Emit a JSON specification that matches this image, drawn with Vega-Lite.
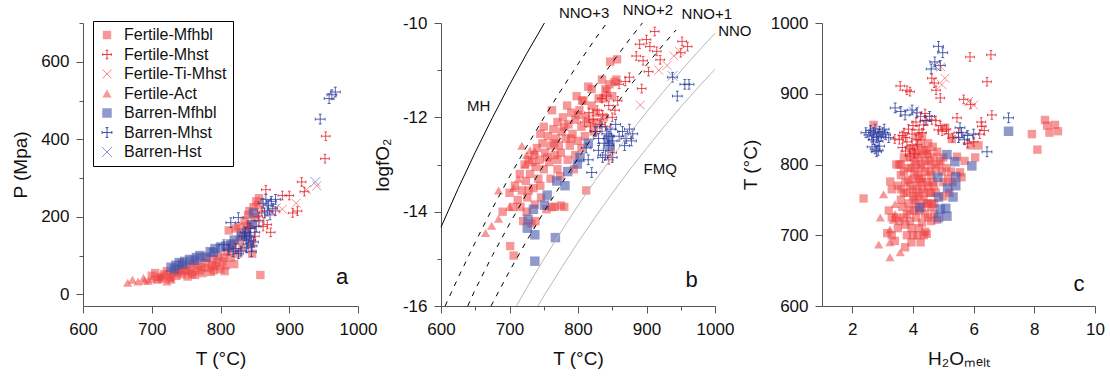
{
"$schema":"https://vega.github.io/schema/vega-lite/v6.json",
"padding":{"left":11,"top":2,"right":5,"bottom":2},
"config":{
 "view":{"stroke":null},
 "axis":{"domainColor":"#555","tickColor":"#555","domainWidth":1,"tickWidth":1,"labelFontSize":17,"titleFontSize":19,"labelFont":"Liberation Sans","titleFont":"Liberation Sans","titleFontWeight":"normal","labelColor":"#111","titleColor":"#111","grid":false,"labelFlush":false,"labelOverlap":false,"labelBound":false},
 "axisX":{"labelPadding":8,"titlePadding":12},
 "axisY":{"labelPadding":7,"titlePadding":10},
 "legend":{"orient":"none","legendX":10,"legendY":-2,"strokeColor":"#000","fillColor":"#fff","padding":6,"labelFontSize":16,"labelFont":"Liberation Sans","labelColor":"#111","rowPadding":3.5,"labelOffset":9,"symbolStrokeWidth":0.9}
},
"datasets":{
"a":[
{"series":"Fertile-Mfhbl","T":700,"P":48},{"series":"Fertile-Mfhbl","T":705,"P":55},{"series":"Fertile-Mfhbl","T":708,"P":38},{"series":"Fertile-Mfhbl","T":712,"P":45},{"series":"Fertile-Mfhbl","T":718,"P":52},{"series":"Fertile-Mfhbl","T":722,"P":60},{"series":"Fertile-Mfhbl","T":728,"P":42},{"series":"Fertile-Mfhbl","T":732,"P":55},{"series":"Fertile-Mfhbl","T":736,"P":48},{"series":"Fertile-Mfhbl","T":740,"P":65},{"series":"Fertile-Mfhbl","T":744,"P":52},{"series":"Fertile-Mfhbl","T":748,"P":60},{"series":"Fertile-Mfhbl","T":752,"P":46},{"series":"Fertile-Mfhbl","T":756,"P":70},{"series":"Fertile-Mfhbl","T":760,"P":58},{"series":"Fertile-Mfhbl","T":763,"P":50},{"series":"Fertile-Mfhbl","T":767,"P":75},{"series":"Fertile-Mfhbl","T":770,"P":62},{"series":"Fertile-Mfhbl","T":774,"P":55},{"series":"Fertile-Mfhbl","T":778,"P":80},{"series":"Fertile-Mfhbl","T":782,"P":68},{"series":"Fertile-Mfhbl","T":786,"P":58},{"series":"Fertile-Mfhbl","T":790,"P":90},{"series":"Fertile-Mfhbl","T":793,"P":72},{"series":"Fertile-Mfhbl","T":797,"P":100},{"series":"Fertile-Mfhbl","T":800,"P":65},{"series":"Fertile-Mfhbl","T":803,"P":85},{"series":"Fertile-Mfhbl","T":806,"P":60},{"series":"Fertile-Mfhbl","T":810,"P":110},{"series":"Fertile-Mfhbl","T":812,"P":165},{"series":"Fertile-Mfhbl","T":815,"P":95},{"series":"Fertile-Mfhbl","T":818,"P":130},{"series":"Fertile-Mfhbl","T":822,"P":170},{"series":"Fertile-Mfhbl","T":825,"P":105},{"series":"Fertile-Mfhbl","T":828,"P":140},{"series":"Fertile-Mfhbl","T":832,"P":120},{"series":"Fertile-Mfhbl","T":836,"P":150},{"series":"Fertile-Mfhbl","T":840,"P":205},{"series":"Fertile-Mfhbl","T":843,"P":180},{"series":"Fertile-Mfhbl","T":846,"P":105},{"series":"Fertile-Mfhbl","T":848,"P":225},{"series":"Fertile-Mfhbl","T":852,"P":240},{"series":"Fertile-Mfhbl","T":856,"P":248},{"series":"Fertile-Mfhbl","T":858,"P":50},{"series":"Fertile-Mfhbl","T":845,"P":130},{"series":"Fertile-Mfhbl","T":835,"P":190},{"series":"Fertile-Mfhbl","T":820,"P":78},{"series":"Fertile-Mfhbl","T":808,"P":75},{"series":"Fertile-Mfhbl","T":790,"P":62},{"series":"Fertile-Mfhbl","T":760,"P":80},{"series":"Fertile-Mfhbl","T":745,"P":75},{"series":"Fertile-Mfhbl","T":780,"P":95},{"series":"Fertile-Mfhbl","T":826,"P":175},{"series":"Fertile-Mfhbl","T":715,"P":40},{"series":"Fertile-Mfhbl","T":725,"P":50},{"series":"Fertile-Mfhbl","T":738,"P":58},{"series":"Fertile-Mfhbl","T":750,"P":62},{"series":"Fertile-Mfhbl","T":758,"P":52},{"series":"Fertile-Mfhbl","T":772,"P":70},{"series":"Fertile-Mfhbl","T":788,"P":75},{"series":"Fertile-Mfhbl","T":795,"P":82},{"series":"Fertile-Mfhbl","T":805,"P":95},{"series":"Fertile-Mfhbl","T":815,"P":120},{"series":"Fertile-Mfhbl","T":830,"P":160},{"series":"Fertile-Mfhbl","T":838,"P":175},{"series":"Fertile-Mfhbl","T":850,"P":200},{"series":"Fertile-Mfhbl","T":855,"P":230},{"series":"Fertile-Mfhbl","T":842,"P":215},
{"series":"Fertile-Act","T":665,"P":30},{"series":"Fertile-Act","T":672,"P":38},{"series":"Fertile-Act","T":680,"P":33},{"series":"Fertile-Act","T":688,"P":42},{"series":"Fertile-Act","T":695,"P":35},{"series":"Fertile-Act","T":700,"P":40},{"series":"Fertile-Act","T":715,"P":48},{"series":"Fertile-Act","T":722,"P":33},{"series":"Fertile-Act","T":726,"P":45},{"series":"Fertile-Act","T":728,"P":38},{"series":"Fertile-Act","T":690,"P":36},{"series":"Fertile-Act","T":710,"P":44},
{"series":"Barren-Mfhbl","T":728,"P":70},{"series":"Barren-Mfhbl","T":735,"P":75},{"series":"Barren-Mfhbl","T":740,"P":82},{"series":"Barren-Mfhbl","T":748,"P":85},{"series":"Barren-Mfhbl","T":755,"P":90},{"series":"Barren-Mfhbl","T":762,"P":88},{"series":"Barren-Mfhbl","T":770,"P":100},{"series":"Barren-Mfhbl","T":778,"P":96},{"series":"Barren-Mfhbl","T":785,"P":110},{"series":"Barren-Mfhbl","T":792,"P":118},{"series":"Barren-Mfhbl","T":800,"P":122},{"series":"Barren-Mfhbl","T":808,"P":125},{"series":"Barren-Mfhbl","T":815,"P":130},{"series":"Barren-Mfhbl","T":820,"P":140},{"series":"Barren-Mfhbl","T":830,"P":150},{"series":"Barren-Mfhbl","T":838,"P":160},{"series":"Barren-Mfhbl","T":845,"P":180},{"series":"Barren-Mfhbl","T":848,"P":210},{"series":"Barren-Mfhbl","T":790,"P":108},{"series":"Barren-Mfhbl","T":765,"P":95},{"series":"Barren-Mfhbl","T":733,"P":65},{"series":"Barren-Mfhbl","T":745,"P":78},
{"series":"Barren-Mhst","T":815,"P":185},{"series":"Barren-Mhst","T":826,"P":198},{"series":"Barren-Mhst","T":836,"P":160},{"series":"Barren-Mhst","T":838,"P":145},{"series":"Barren-Mhst","T":840,"P":130},{"series":"Barren-Mhst","T":842,"P":150},{"series":"Barren-Mhst","T":844,"P":140},{"series":"Barren-Mhst","T":846,"P":125},{"series":"Barren-Mhst","T":848,"P":135},{"series":"Barren-Mhst","T":843,"P":170},{"series":"Barren-Mhst","T":850,"P":160},{"series":"Barren-Mhst","T":838,"P":120},{"series":"Barren-Mhst","T":845,"P":110},{"series":"Barren-Mhst","T":835,"P":150},{"series":"Barren-Mhst","T":812,"P":115},{"series":"Barren-Mhst","T":818,"P":110},{"series":"Barren-Mhst","T":822,"P":118},{"series":"Barren-Mhst","T":826,"P":105},{"series":"Barren-Mhst","T":830,"P":112},{"series":"Barren-Mhst","T":805,"P":128},{"series":"Barren-Mhst","T":862,"P":235},{"series":"Barren-Mhst","T":866,"P":245},{"series":"Barren-Mhst","T":870,"P":230},{"series":"Barren-Mhst","T":874,"P":240},{"series":"Barren-Mhst","T":868,"P":215},{"series":"Barren-Mhst","T":876,"P":222},{"series":"Barren-Mhst","T":880,"P":245},{"series":"Barren-Mhst","T":872,"P":205},{"series":"Barren-Mhst","T":864,"P":210},{"series":"Barren-Mhst","T":945,"P":452},{"series":"Barren-Mhst","T":958,"P":505},{"series":"Barren-Mhst","T":962,"P":515},{"series":"Barren-Mhst","T":967,"P":522},{"series":"Barren-Mhst","T":856,"P":190},{"series":"Barren-Mhst","T":852,"P":175},
{"series":"Fertile-Mhst","T":866,"P":270},{"series":"Fertile-Mhst","T":873,"P":160},{"series":"Fertile-Mhst","T":862,"P":175},{"series":"Fertile-Mhst","T":868,"P":180},{"series":"Fertile-Mhst","T":890,"P":255},{"series":"Fertile-Mhst","T":900,"P":255},{"series":"Fertile-Mhst","T":905,"P":210},{"series":"Fertile-Mhst","T":912,"P":215},{"series":"Fertile-Mhst","T":918,"P":290},{"series":"Fertile-Mhst","T":922,"P":265},{"series":"Fertile-Mhst","T":952,"P":350},{"series":"Fertile-Mhst","T":953,"P":408},{"series":"Fertile-Mhst","T":860,"P":215},{"series":"Fertile-Mhst","T":855,"P":200},{"series":"Fertile-Mhst","T":880,"P":215},{"series":"Fertile-Mhst","T":840,"P":175},{"series":"Fertile-Mhst","T":850,"P":150},
{"series":"Fertile-Ti-Mhst","T":910,"P":235},{"series":"Fertile-Ti-Mhst","T":925,"P":270},{"series":"Fertile-Ti-Mhst","T":940,"P":280},{"series":"Fertile-Ti-Mhst","T":890,"P":220},{"series":"Fertile-Ti-Mhst","T":860,"P":190},
{"series":"Barren-Hst","T":938,"P":290},{"series":"Barren-Hst","T":845,"P":150},{"series":"Barren-Hst","T":880,"P":222}
],
"b":[
{"series":"Fertile-Mfhbl","T":701,"f":-14.73},{"series":"Fertile-Mfhbl","T":706,"f":-14.93},{"series":"Fertile-Mfhbl","T":690,"f":-14.0},{"series":"Fertile-Mfhbl","T":700,"f":-13.6},{"series":"Fertile-Mfhbl","T":705,"f":-13.9},{"series":"Fertile-Mfhbl","T":708,"f":-13.45},{"series":"Fertile-Mfhbl","T":712,"f":-13.75},{"series":"Fertile-Mfhbl","T":715,"f":-13.2},{"series":"Fertile-Mfhbl","T":718,"f":-13.55},{"series":"Fertile-Mfhbl","T":720,"f":-14.2},{"series":"Fertile-Mfhbl","T":722,"f":-13.0},{"series":"Fertile-Mfhbl","T":724,"f":-13.35},{"series":"Fertile-Mfhbl","T":726,"f":-13.7},{"series":"Fertile-Mfhbl","T":728,"f":-12.9},{"series":"Fertile-Mfhbl","T":730,"f":-13.2},{"series":"Fertile-Mfhbl","T":732,"f":-14.25},{"series":"Fertile-Mfhbl","T":735,"f":-13.5},{"series":"Fertile-Mfhbl","T":736,"f":-12.8},{"series":"Fertile-Mfhbl","T":738,"f":-13.05},{"series":"Fertile-Mfhbl","T":740,"f":-12.65},{"series":"Fertile-Mfhbl","T":742,"f":-13.3},{"series":"Fertile-Mfhbl","T":744,"f":-12.9},{"series":"Fertile-Mfhbl","T":746,"f":-13.7},{"series":"Fertile-Mfhbl","T":748,"f":-12.55},{"series":"Fertile-Mfhbl","T":750,"f":-13.1},{"series":"Fertile-Mfhbl","T":752,"f":-12.75},{"series":"Fertile-Mfhbl","T":754,"f":-13.95},{"series":"Fertile-Mfhbl","T":756,"f":-12.4},{"series":"Fertile-Mfhbl","T":758,"f":-12.95},{"series":"Fertile-Mfhbl","T":760,"f":-12.6},{"series":"Fertile-Mfhbl","T":762,"f":-13.9},{"series":"Fertile-Mfhbl","T":764,"f":-12.25},{"series":"Fertile-Mfhbl","T":766,"f":-12.8},{"series":"Fertile-Mfhbl","T":768,"f":-12.45},{"series":"Fertile-Mfhbl","T":770,"f":-12.1},{"series":"Fertile-Mfhbl","T":772,"f":-12.6},{"series":"Fertile-Mfhbl","T":774,"f":-13.25},{"series":"Fertile-Mfhbl","T":776,"f":-12.3},{"series":"Fertile-Mfhbl","T":778,"f":-12.0},{"series":"Fertile-Mfhbl","T":780,"f":-13.9},{"series":"Fertile-Mfhbl","T":782,"f":-12.45},{"series":"Fertile-Mfhbl","T":784,"f":-11.75},{"series":"Fertile-Mfhbl","T":786,"f":-12.15},{"series":"Fertile-Mfhbl","T":788,"f":-12.6},{"series":"Fertile-Mfhbl","T":790,"f":-11.9},{"series":"Fertile-Mfhbl","T":792,"f":-12.35},{"series":"Fertile-Mfhbl","T":794,"f":-13.1},{"series":"Fertile-Mfhbl","T":796,"f":-12.05},{"series":"Fertile-Mfhbl","T":798,"f":-11.55},{"series":"Fertile-Mfhbl","T":800,"f":-12.5},{"series":"Fertile-Mfhbl","T":802,"f":-11.85},{"series":"Fertile-Mfhbl","T":805,"f":-12.2},{"series":"Fertile-Mfhbl","T":808,"f":-11.65},{"series":"Fertile-Mfhbl","T":810,"f":-12.4},{"series":"Fertile-Mfhbl","T":812,"f":-13.55},{"series":"Fertile-Mfhbl","T":815,"f":-11.35},{"series":"Fertile-Mfhbl","T":818,"f":-12.1},{"series":"Fertile-Mfhbl","T":820,"f":-11.4},{"series":"Fertile-Mfhbl","T":823,"f":-12.3},{"series":"Fertile-Mfhbl","T":826,"f":-11.9},{"series":"Fertile-Mfhbl","T":830,"f":-11.6},{"series":"Fertile-Mfhbl","T":835,"f":-11.2},{"series":"Fertile-Mfhbl","T":838,"f":-12.0},{"series":"Fertile-Mfhbl","T":842,"f":-11.45},{"series":"Fertile-Mfhbl","T":846,"f":-11.3},{"series":"Fertile-Mfhbl","T":850,"f":-11.55},{"series":"Fertile-Mfhbl","T":853,"f":-11.25},{"series":"Fertile-Mfhbl","T":856,"f":-11.2},{"series":"Fertile-Mfhbl","T":847,"f":-10.82},{"series":"Fertile-Mfhbl","T":857,"f":-10.77},{"series":"Fertile-Mfhbl","T":725,"f":-14.0},{"series":"Fertile-Mfhbl","T":737,"f":-13.85},{"series":"Fertile-Mfhbl","T":750,"f":-12.2},{"series":"Fertile-Mfhbl","T":762,"f":-11.85},{"series":"Fertile-Mfhbl","T":770,"f":-12.9},{"series":"Fertile-Mfhbl","T":785,"f":-12.9},{"series":"Fertile-Mfhbl","T":806,"f":-11.64},{"series":"Fertile-Mfhbl","T":837,"f":-11.6},{"series":"Fertile-Mfhbl","T":840,"f":-11.4},{"series":"Fertile-Mfhbl","T":738,"f":-14.2},{"series":"Fertile-Mfhbl","T":775,"f":-13.87},{"series":"Fertile-Mfhbl","T":766,"f":-13.9},{"series":"Fertile-Mfhbl","T":745,"f":-12.35},{"series":"Fertile-Mfhbl","T":755,"f":-12.85},{"series":"Fertile-Mfhbl","T":765,"f":-12.55},{"series":"Fertile-Mfhbl","T":775,"f":-12.75},{"series":"Fertile-Mfhbl","T":780,"f":-12.2},{"series":"Fertile-Mfhbl","T":790,"f":-12.45},{"series":"Fertile-Mfhbl","T":800,"f":-11.95},{"series":"Fertile-Mfhbl","T":812,"f":-12.0},{"series":"Fertile-Mfhbl","T":820,"f":-11.75},{"series":"Fertile-Mfhbl","T":828,"f":-12.1},{"series":"Fertile-Mfhbl","T":760,"f":-13.3},{"series":"Fertile-Mfhbl","T":770,"f":-13.1},{"series":"Fertile-Mfhbl","T":745,"f":-13.45},{"series":"Fertile-Mfhbl","T":733,"f":-12.95},{"series":"Fertile-Mfhbl","T":716,"f":-13.9},{"series":"Fertile-Mfhbl","T":728,"f":-13.55},{"series":"Fertile-Mfhbl","T":796,"f":-12.8},{"series":"Fertile-Mfhbl","T":805,"f":-12.65},
{"series":"Fertile-Act","T":665,"f":-14.45},{"series":"Fertile-Act","T":674,"f":-14.3},{"series":"Fertile-Act","T":684,"f":-14.15},{"series":"Fertile-Act","T":684,"f":-13.55},{"series":"Fertile-Act","T":706,"f":-13.5},{"series":"Fertile-Act","T":713,"f":-13.3},{"series":"Fertile-Act","T":723,"f":-13.0},{"series":"Fertile-Act","T":725,"f":-12.8},{"series":"Fertile-Act","T":730,"f":-12.7},{"series":"Fertile-Act","T":737,"f":-12.72},{"series":"Fertile-Act","T":700,"f":-13.9},{"series":"Fertile-Act","T":718,"f":-12.6},
{"series":"Barren-Mfhbl","T":727,"f":-14.16},{"series":"Barren-Mfhbl","T":726,"f":-14.35},{"series":"Barren-Mfhbl","T":737,"f":-14.49},{"series":"Barren-Mfhbl","T":737,"f":-15.05},{"series":"Barren-Mfhbl","T":767,"f":-14.55},{"series":"Barren-Mfhbl","T":735,"f":-13.95},{"series":"Barren-Mfhbl","T":751,"f":-13.86},{"series":"Barren-Mfhbl","T":755,"f":-13.65},{"series":"Barren-Mfhbl","T":769,"f":-13.35},{"series":"Barren-Mfhbl","T":781,"f":-13.45},{"series":"Barren-Mfhbl","T":785,"f":-13.15},{"series":"Barren-Mfhbl","T":799,"f":-12.99},{"series":"Barren-Mfhbl","T":803,"f":-12.85},{"series":"Barren-Mfhbl","T":815,"f":-12.55},{"series":"Barren-Mfhbl","T":847,"f":-12.63},{"series":"Barren-Mfhbl","T":845,"f":-12.47},
{"series":"Fertile-Mhst","T":912,"f":-10.18},{"series":"Fertile-Mhst","T":900,"f":-10.35},{"series":"Fertile-Mhst","T":905,"f":-10.5},{"series":"Fertile-Mhst","T":915,"f":-10.6},{"series":"Fertile-Mhst","T":890,"f":-10.45},{"series":"Fertile-Mhst","T":885,"f":-10.7},{"series":"Fertile-Mhst","T":895,"f":-10.8},{"series":"Fertile-Mhst","T":920,"f":-10.78},{"series":"Fertile-Mhst","T":952,"f":-10.39},{"series":"Fertile-Mhst","T":950,"f":-10.63},{"series":"Fertile-Mhst","T":960,"f":-10.5},{"series":"Fertile-Mhst","T":903,"f":-11.03},{"series":"Fertile-Mhst","T":893,"f":-11.39},{"series":"Fertile-Mhst","T":869,"f":-11.24},{"series":"Fertile-Mhst","T":875,"f":-11.15},{"series":"Fertile-Mhst","T":860,"f":-11.3},{"series":"Fertile-Mhst","T":816,"f":-11.9},{"series":"Fertile-Mhst","T":822,"f":-12.05},{"series":"Fertile-Mhst","T":828,"f":-11.85},{"series":"Fertile-Mhst","T":832,"f":-12.15},{"series":"Fertile-Mhst","T":836,"f":-11.95},{"series":"Fertile-Mhst","T":840,"f":-12.2},{"series":"Fertile-Mhst","T":845,"f":-11.75},{"series":"Fertile-Mhst","T":850,"f":-12.0},{"series":"Fertile-Mhst","T":854,"f":-11.85},{"series":"Fertile-Mhst","T":826,"f":-12.3},{"series":"Fertile-Mhst","T":818,"f":-12.2},{"series":"Fertile-Mhst","T":810,"f":-12.1},{"series":"Fertile-Mhst","T":845,"f":-12.9},{"series":"Fertile-Mhst","T":850,"f":-12.75},{"series":"Fertile-Mhst","T":835,"f":-11.6},{"series":"Fertile-Mhst","T":842,"f":-11.55},{"series":"Fertile-Mhst","T":858,"f":-11.65},
{"series":"Barren-Mhst","T":825,"f":-12.3},{"series":"Barren-Mhst","T":830,"f":-12.45},{"series":"Barren-Mhst","T":835,"f":-12.2},{"series":"Barren-Mhst","T":838,"f":-12.55},{"series":"Barren-Mhst","T":842,"f":-12.35},{"series":"Barren-Mhst","T":845,"f":-12.4},{"series":"Barren-Mhst","T":848,"f":-12.25},{"series":"Barren-Mhst","T":850,"f":-12.5},{"series":"Barren-Mhst","T":845,"f":-12.6},{"series":"Barren-Mhst","T":840,"f":-12.8},{"series":"Barren-Mhst","T":850,"f":-12.85},{"series":"Barren-Mhst","T":836,"f":-12.85},{"series":"Barren-Mhst","T":860,"f":-12.4},{"series":"Barren-Mhst","T":865,"f":-12.3},{"series":"Barren-Mhst","T":870,"f":-12.45},{"series":"Barren-Mhst","T":875,"f":-12.25},{"series":"Barren-Mhst","T":880,"f":-12.35},{"series":"Barren-Mhst","T":868,"f":-12.6},{"series":"Barren-Mhst","T":878,"f":-12.5},{"series":"Barren-Mhst","T":855,"f":-12.15},{"series":"Barren-Mhst","T":820,"f":-13.17},{"series":"Barren-Mhst","T":812,"f":-12.65},{"series":"Barren-Mhst","T":815,"f":-12.9},{"series":"Barren-Mhst","T":945,"f":-11.55},{"series":"Barren-Mhst","T":956,"f":-11.3},{"series":"Barren-Mhst","T":962,"f":-11.3},{"series":"Barren-Mhst","T":938,"f":-11.15},{"series":"Barren-Mhst","T":830,"f":-12.7},
{"series":"Fertile-Ti-Mhst","T":940,"f":-10.7},{"series":"Fertile-Ti-Mhst","T":930,"f":-10.9},{"series":"Fertile-Ti-Mhst","T":918,"f":-11.0},{"series":"Fertile-Ti-Mhst","T":891,"f":-11.74},{"series":"Fertile-Ti-Mhst","T":948,"f":-10.6},
{"series":"Barren-Hst","T":938,"f":-11.12},{"series":"Barren-Hst","T":845,"f":-12.3}
],
"c":[
{"series":"Fertile-Mfhbl","H":3.6,"T":800},{"series":"Fertile-Mfhbl","H":3.7,"T":790},{"series":"Fertile-Mfhbl","H":3.75,"T":775},{"series":"Fertile-Mfhbl","H":3.8,"T":760},{"series":"Fertile-Mfhbl","H":3.85,"T":745},{"series":"Fertile-Mfhbl","H":3.9,"T":810},{"series":"Fertile-Mfhbl","H":3.95,"T":795},{"series":"Fertile-Mfhbl","H":4.0,"T":780},{"series":"Fertile-Mfhbl","H":4.0,"T":765},{"series":"Fertile-Mfhbl","H":4.05,"T":750},{"series":"Fertile-Mfhbl","H":4.05,"T":735},{"series":"Fertile-Mfhbl","H":4.1,"T":800},{"series":"Fertile-Mfhbl","H":4.1,"T":820},{"series":"Fertile-Mfhbl","H":4.15,"T":785},{"series":"Fertile-Mfhbl","H":4.15,"T":770},{"series":"Fertile-Mfhbl","H":4.2,"T":755},{"series":"Fertile-Mfhbl","H":4.2,"T":810},{"series":"Fertile-Mfhbl","H":4.25,"T":795},{"series":"Fertile-Mfhbl","H":4.3,"T":780},{"series":"Fertile-Mfhbl","H":4.3,"T":765},{"series":"Fertile-Mfhbl","H":4.35,"T":820},{"series":"Fertile-Mfhbl","H":4.35,"T":750},{"series":"Fertile-Mfhbl","H":4.4,"T":805},{"series":"Fertile-Mfhbl","H":4.4,"T":790},{"series":"Fertile-Mfhbl","H":4.45,"T":775},{"series":"Fertile-Mfhbl","H":4.5,"T":830},{"series":"Fertile-Mfhbl","H":4.5,"T":815},{"series":"Fertile-Mfhbl","H":4.55,"T":760},{"series":"Fertile-Mfhbl","H":4.6,"T":800},{"series":"Fertile-Mfhbl","H":4.6,"T":785},{"series":"Fertile-Mfhbl","H":4.65,"T":825},{"series":"Fertile-Mfhbl","H":4.7,"T":770},{"series":"Fertile-Mfhbl","H":4.7,"T":810},{"series":"Fertile-Mfhbl","H":4.75,"T":795},{"series":"Fertile-Mfhbl","H":4.8,"T":818},{"series":"Fertile-Mfhbl","H":4.9,"T":805},{"series":"Fertile-Mfhbl","H":4.95,"T":790},{"series":"Fertile-Mfhbl","H":5.0,"T":775},{"series":"Fertile-Mfhbl","H":5.1,"T":795},{"series":"Fertile-Mfhbl","H":3.65,"T":740},{"series":"Fertile-Mfhbl","H":3.7,"T":725},{"series":"Fertile-Mfhbl","H":3.75,"T":715},{"series":"Fertile-Mfhbl","H":3.8,"T":730},{"series":"Fertile-Mfhbl","H":3.9,"T":720},{"series":"Fertile-Mfhbl","H":3.95,"T":710},{"series":"Fertile-Mfhbl","H":4.0,"T":700},{"series":"Fertile-Mfhbl","H":4.1,"T":725},{"series":"Fertile-Mfhbl","H":4.2,"T":710},{"series":"Fertile-Mfhbl","H":4.3,"T":718},{"series":"Fertile-Mfhbl","H":4.4,"T":705},{"series":"Fertile-Mfhbl","H":4.5,"T":725},{"series":"Fertile-Mfhbl","H":4.1,"T":745},{"series":"Fertile-Mfhbl","H":3.55,"T":720},{"series":"Fertile-Mfhbl","H":3.45,"T":725},{"series":"Fertile-Mfhbl","H":3.3,"T":725},{"series":"Fertile-Mfhbl","H":3.2,"T":735},{"series":"Fertile-Mfhbl","H":3.5,"T":710},{"series":"Fertile-Mfhbl","H":3.15,"T":703},{"series":"Fertile-Mfhbl","H":3.3,"T":700},{"series":"Fertile-Mfhbl","H":3.4,"T":692},{"series":"Fertile-Mfhbl","H":3.74,"T":683},{"series":"Fertile-Mfhbl","H":3.25,"T":776},{"series":"Fertile-Mfhbl","H":3.3,"T":765},{"series":"Fertile-Mfhbl","H":3.5,"T":770},{"series":"Fertile-Mfhbl","H":3.6,"T":765},{"series":"Fertile-Mfhbl","H":3.55,"T":800},{"series":"Fertile-Mfhbl","H":4.8,"T":722},{"series":"Fertile-Mfhbl","H":4.5,"T":745},{"series":"Fertile-Mfhbl","H":4.62,"T":744},{"series":"Fertile-Mfhbl","H":2.37,"T":752},{"series":"Fertile-Mfhbl","H":2.7,"T":856},{"series":"Fertile-Mfhbl","H":8.35,"T":863},{"series":"Fertile-Mfhbl","H":8.42,"T":855},{"series":"Fertile-Mfhbl","H":8.5,"T":845},{"series":"Fertile-Mfhbl","H":8.68,"T":856},{"series":"Fertile-Mfhbl","H":8.78,"T":847},{"series":"Fertile-Mfhbl","H":7.92,"T":843},{"series":"Fertile-Mfhbl","H":8.1,"T":821},{"series":"Fertile-Mfhbl","H":5.45,"T":811},{"series":"Fertile-Mfhbl","H":5.7,"T":805},{"series":"Fertile-Mfhbl","H":6.05,"T":810},{"series":"Fertile-Mfhbl","H":6.16,"T":827},{"series":"Fertile-Mfhbl","H":5.9,"T":827},{"series":"Fertile-Mfhbl","H":5.28,"T":836},{"series":"Fertile-Mfhbl","H":5.06,"T":852},{"series":"Fertile-Mfhbl","H":5.55,"T":789},{"series":"Fertile-Mfhbl","H":5.6,"T":782},{"series":"Fertile-Mfhbl","H":5.25,"T":790},{"series":"Fertile-Mfhbl","H":5.3,"T":775},{"series":"Fertile-Mfhbl","H":4.45,"T":702},{"series":"Fertile-Mfhbl","H":4.6,"T":740},{"series":"Fertile-Mfhbl","H":4.2,"T":735},{"series":"Fertile-Mfhbl","H":4.3,"T":740},{"series":"Fertile-Mfhbl","H":3.9,"T":770},{"series":"Fertile-Mfhbl","H":4.05,"T":790},{"series":"Fertile-Mfhbl","H":4.25,"T":830},{"series":"Fertile-Mfhbl","H":4.3,"T":840},{"series":"Fertile-Mfhbl","H":4.15,"T":840},{"series":"Fertile-Mfhbl","H":3.45,"T":800},{"series":"Fertile-Mfhbl","H":3.6,"T":785},{"series":"Fertile-Mfhbl","H":3.7,"T":810},{"series":"Fertile-Mfhbl","H":3.85,"T":795},{"series":"Fertile-Mfhbl","H":3.95,"T":820},{"series":"Fertile-Mfhbl","H":4.05,"T":805},{"series":"Fertile-Mfhbl","H":4.15,"T":815},{"series":"Fertile-Mfhbl","H":4.25,"T":775},{"series":"Fertile-Mfhbl","H":4.35,"T":760},{"series":"Fertile-Mfhbl","H":4.45,"T":745},{"series":"Fertile-Mfhbl","H":4.55,"T":790},{"series":"Fertile-Mfhbl","H":4.65,"T":775},{"series":"Fertile-Mfhbl","H":4.75,"T":760},{"series":"Fertile-Mfhbl","H":4.85,"T":800},{"series":"Fertile-Mfhbl","H":5.0,"T":810},{"series":"Fertile-Mfhbl","H":5.15,"T":780},{"series":"Fertile-Mfhbl","H":3.8,"T":700},{"series":"Fertile-Mfhbl","H":3.9,"T":735},{"series":"Fertile-Mfhbl","H":4.0,"T":755},{"series":"Fertile-Mfhbl","H":4.1,"T":760},{"series":"Fertile-Mfhbl","H":4.2,"T":780},{"series":"Fertile-Mfhbl","H":4.3,"T":800},{"series":"Fertile-Mfhbl","H":4.4,"T":820},{"series":"Fertile-Mfhbl","H":4.5,"T":770},{"series":"Fertile-Mfhbl","H":4.6,"T":760},{"series":"Fertile-Mfhbl","H":4.7,"T":745},{"series":"Fertile-Mfhbl","H":3.6,"T":750},{"series":"Fertile-Mfhbl","H":3.7,"T":760},{"series":"Fertile-Mfhbl","H":4.25,"T":690},{"series":"Fertile-Mfhbl","H":4.35,"T":700},{"series":"Fertile-Mfhbl","H":4.15,"T":700},{"series":"Fertile-Mfhbl","H":3.95,"T":690},{"series":"Fertile-Mfhbl","H":4.6,"T":720},{"series":"Fertile-Mfhbl","H":4.4,"T":730},{"series":"Fertile-Mfhbl","H":4.7,"T":730},{"series":"Fertile-Mfhbl","H":5.2,"T":760},{"series":"Fertile-Mfhbl","H":5.0,"T":755},{"series":"Fertile-Mfhbl","H":3.85,"T":778},{"series":"Fertile-Mfhbl","H":4.45,"T":815},{"series":"Fertile-Mfhbl","H":4.55,"T":805},
{"series":"Fertile-Act","H":3.03,"T":758},{"series":"Fertile-Act","H":2.92,"T":725},{"series":"Fertile-Act","H":2.87,"T":687},{"series":"Fertile-Act","H":3.24,"T":690},{"series":"Fertile-Act","H":3.24,"T":669},{"series":"Fertile-Act","H":3.58,"T":676},{"series":"Fertile-Act","H":3.41,"T":744},{"series":"Fertile-Act","H":3.41,"T":730},{"series":"Fertile-Act","H":3.24,"T":708},{"series":"Fertile-Act","H":3.35,"T":722},
{"series":"Barren-Mfhbl","H":7.15,"T":847},{"series":"Barren-Mfhbl","H":5.94,"T":798},{"series":"Barren-Mfhbl","H":5.38,"T":804},{"series":"Barren-Mfhbl","H":5.12,"T":814},{"series":"Barren-Mfhbl","H":5.41,"T":783},{"series":"Barren-Mfhbl","H":5.41,"T":770},{"series":"Barren-Mfhbl","H":5.14,"T":767},{"series":"Barren-Mfhbl","H":5.32,"T":754},{"series":"Barren-Mfhbl","H":4.82,"T":782},{"series":"Barren-Mfhbl","H":4.84,"T":754},{"series":"Barren-Mfhbl","H":4.9,"T":737},{"series":"Barren-Mfhbl","H":5.08,"T":738},{"series":"Barren-Mfhbl","H":4.84,"T":725},{"series":"Barren-Mfhbl","H":5.12,"T":727},{"series":"Barren-Mfhbl","H":4.22,"T":739},
{"series":"Fertile-Mhst","H":3.58,"T":911},{"series":"Fertile-Mhst","H":3.8,"T":905},{"series":"Fertile-Mhst","H":3.9,"T":903},{"series":"Fertile-Mhst","H":4.62,"T":922},{"series":"Fertile-Mhst","H":4.76,"T":905},{"series":"Fertile-Mhst","H":4.9,"T":894},{"series":"Fertile-Mhst","H":4.7,"T":915},{"series":"Fertile-Mhst","H":5.88,"T":952},{"series":"Fertile-Mhst","H":6.57,"T":955},{"series":"Fertile-Mhst","H":6.44,"T":917},{"series":"Fertile-Mhst","H":5.45,"T":866},{"series":"Fertile-Mhst","H":6.6,"T":870},{"series":"Fertile-Mhst","H":5.67,"T":892},{"series":"Fertile-Mhst","H":5.9,"T":885},{"series":"Fertile-Mhst","H":6.27,"T":854},{"series":"Fertile-Mhst","H":6.2,"T":843},{"series":"Fertile-Mhst","H":4.62,"T":863},{"series":"Fertile-Mhst","H":4.35,"T":856},{"series":"Fertile-Mhst","H":4.2,"T":849},{"series":"Fertile-Mhst","H":3.97,"T":843},{"series":"Fertile-Mhst","H":3.65,"T":841},{"series":"Fertile-Mhst","H":3.4,"T":836},{"series":"Fertile-Mhst","H":3.8,"T":832},{"series":"Fertile-Mhst","H":3.97,"T":827},{"series":"Fertile-Mhst","H":3.75,"T":819},{"series":"Fertile-Mhst","H":3.65,"T":824},{"series":"Fertile-Mhst","H":4.84,"T":849},{"series":"Fertile-Mhst","H":4.96,"T":847},{"series":"Fertile-Mhst","H":5.17,"T":843},{"series":"Fertile-Mhst","H":4.1,"T":835},{"series":"Fertile-Mhst","H":3.9,"T":812},{"series":"Fertile-Mhst","H":4.05,"T":815},{"series":"Fertile-Mhst","H":4.45,"T":862},{"series":"Fertile-Mhst","H":4.75,"T":862},{"series":"Fertile-Mhst","H":6.0,"T":832},{"series":"Fertile-Mhst","H":5.8,"T":830},{"series":"Fertile-Mhst","H":4.3,"T":845},{"series":"Fertile-Mhst","H":3.7,"T":845},{"series":"Fertile-Mhst","H":3.85,"T":850},{"series":"Fertile-Mhst","H":4.0,"T":855},{"series":"Fertile-Mhst","H":4.1,"T":860},{"series":"Fertile-Mhst","H":4.25,"T":868},{"series":"Fertile-Mhst","H":4.4,"T":872},{"series":"Fertile-Mhst","H":3.55,"T":835},{"series":"Fertile-Mhst","H":3.75,"T":838},{"series":"Fertile-Mhst","H":3.9,"T":822},{"series":"Fertile-Mhst","H":4.15,"T":828},{"series":"Fertile-Mhst","H":5.3,"T":838},{"series":"Fertile-Mhst","H":5.5,"T":845},{"series":"Fertile-Mhst","H":5.1,"T":850},{"series":"Fertile-Mhst","H":4.9,"T":855},{"series":"Fertile-Mhst","H":6.25,"T":860},{"series":"Fertile-Mhst","H":6.35,"T":848},
{"series":"Barren-Mhst","H":2.45,"T":845},{"series":"Barren-Mhst","H":2.55,"T":842},{"series":"Barren-Mhst","H":2.6,"T":848},{"series":"Barren-Mhst","H":2.65,"T":840},{"series":"Barren-Mhst","H":2.7,"T":845},{"series":"Barren-Mhst","H":2.75,"T":850},{"series":"Barren-Mhst","H":2.8,"T":838},{"series":"Barren-Mhst","H":2.85,"T":843},{"series":"Barren-Mhst","H":2.9,"T":847},{"series":"Barren-Mhst","H":2.95,"T":840},{"series":"Barren-Mhst","H":3.0,"T":845},{"series":"Barren-Mhst","H":3.05,"T":850},{"series":"Barren-Mhst","H":3.1,"T":842},{"series":"Barren-Mhst","H":2.7,"T":835},{"series":"Barren-Mhst","H":2.85,"T":833},{"series":"Barren-Mhst","H":2.65,"T":825},{"series":"Barren-Mhst","H":2.75,"T":822},{"series":"Barren-Mhst","H":2.85,"T":820},{"series":"Barren-Mhst","H":2.9,"T":826},{"series":"Barren-Mhst","H":2.8,"T":818},{"series":"Barren-Mhst","H":3.2,"T":838},{"series":"Barren-Mhst","H":4.84,"T":967},{"series":"Barren-Mhst","H":4.98,"T":958},{"series":"Barren-Mhst","H":4.72,"T":945},{"series":"Barren-Mhst","H":4.9,"T":940},{"series":"Barren-Mhst","H":4.6,"T":935},{"series":"Barren-Mhst","H":3.41,"T":880},{"series":"Barren-Mhst","H":3.74,"T":870},{"series":"Barren-Mhst","H":3.97,"T":877},{"series":"Barren-Mhst","H":4.13,"T":873},{"series":"Barren-Mhst","H":4.4,"T":862},{"series":"Barren-Mhst","H":4.55,"T":868},{"series":"Barren-Mhst","H":5.55,"T":852},{"series":"Barren-Mhst","H":5.6,"T":845},{"series":"Barren-Mhst","H":5.8,"T":841},{"series":"Barren-Mhst","H":6.0,"T":843},{"series":"Barren-Mhst","H":5.5,"T":838},{"series":"Barren-Mhst","H":6.44,"T":818},{"series":"Barren-Mhst","H":7.15,"T":866},{"series":"Barren-Mhst","H":5.7,"T":835},{"series":"Barren-Mhst","H":3.6,"T":875},
{"series":"Fertile-Ti-Mhst","H":4.92,"T":938},{"series":"Fertile-Ti-Mhst","H":5.05,"T":922},{"series":"Fertile-Ti-Mhst","H":4.95,"T":913},{"series":"Fertile-Ti-Mhst","H":5.83,"T":889},{"series":"Fertile-Ti-Mhst","H":6.0,"T":884},
{"series":"Barren-Hst","H":4.7,"T":940},{"series":"Barren-Hst","H":4.02,"T":875}
],
"curves":[
{"buffer":"MH","T":600,"f":-14.33},{"buffer":"MH","T":625,"f":-13.51},{"buffer":"MH","T":650,"f":-12.74},{"buffer":"MH","T":675,"f":-12.01},{"buffer":"MH","T":700,"f":-11.31},{"buffer":"MH","T":725,"f":-10.65},{"buffer":"MH","T":751,"f":-10.0},
{"buffer":"NNO+3","T":606,"f":-16.0},{"buffer":"NNO+3","T":625,"f":-15.4},{"buffer":"NNO+3","T":650,"f":-14.65},{"buffer":"NNO+3","T":675,"f":-13.93},{"buffer":"NNO+3","T":700,"f":-13.26},{"buffer":"NNO+3","T":725,"f":-12.62},{"buffer":"NNO+3","T":750,"f":-12.01},{"buffer":"NNO+3","T":775,"f":-11.43},{"buffer":"NNO+3","T":800,"f":-10.87},{"buffer":"NNO+3","T":825,"f":-10.34},{"buffer":"NNO+3","T":842,"f":-10.0},
{"buffer":"NNO+2","T":639,"f":-16.0},{"buffer":"NNO+2","T":650,"f":-15.65},{"buffer":"NNO+2","T":675,"f":-14.93},{"buffer":"NNO+2","T":700,"f":-14.26},{"buffer":"NNO+2","T":725,"f":-13.62},{"buffer":"NNO+2","T":750,"f":-13.01},{"buffer":"NNO+2","T":775,"f":-12.43},{"buffer":"NNO+2","T":800,"f":-11.87},{"buffer":"NNO+2","T":825,"f":-11.34},{"buffer":"NNO+2","T":850,"f":-10.84},{"buffer":"NNO+2","T":875,"f":-10.35},{"buffer":"NNO+2","T":894,"f":-10.0},
{"buffer":"NNO+1","T":673,"f":-16.0},{"buffer":"NNO+1","T":700,"f":-15.26},{"buffer":"NNO+1","T":725,"f":-14.62},{"buffer":"NNO+1","T":750,"f":-14.01},{"buffer":"NNO+1","T":775,"f":-13.43},{"buffer":"NNO+1","T":800,"f":-12.87},{"buffer":"NNO+1","T":825,"f":-12.34},{"buffer":"NNO+1","T":850,"f":-11.84},{"buffer":"NNO+1","T":875,"f":-11.35},{"buffer":"NNO+1","T":900,"f":-10.89},{"buffer":"NNO+1","T":925,"f":-10.45},{"buffer":"NNO+1","T":943,"f":-10.15},
{"buffer":"NNO","T":710,"f":-16.0},{"buffer":"NNO","T":725,"f":-15.62},{"buffer":"NNO","T":750,"f":-15.01},{"buffer":"NNO","T":775,"f":-14.43},{"buffer":"NNO","T":800,"f":-13.87},{"buffer":"NNO","T":825,"f":-13.34},{"buffer":"NNO","T":850,"f":-12.84},{"buffer":"NNO","T":875,"f":-12.35},{"buffer":"NNO","T":900,"f":-11.89},{"buffer":"NNO","T":925,"f":-11.45},{"buffer":"NNO","T":950,"f":-11.02},{"buffer":"NNO","T":975,"f":-10.61},{"buffer":"NNO","T":1000,"f":-10.22},
{"buffer":"FMQ","T":741.5,"f":-16.0},{"buffer":"FMQ","T":750,"f":-15.79},{"buffer":"FMQ","T":775,"f":-15.21},{"buffer":"FMQ","T":800,"f":-14.65},{"buffer":"FMQ","T":825,"f":-14.12},{"buffer":"FMQ","T":850,"f":-13.61},{"buffer":"FMQ","T":875,"f":-13.12},{"buffer":"FMQ","T":900,"f":-12.66},{"buffer":"FMQ","T":925,"f":-12.21},{"buffer":"FMQ","T":950,"f":-11.78},{"buffer":"FMQ","T":975,"f":-11.37},{"buffer":"FMQ","T":1000,"f":-10.98}
],
"blabels":[
{"label":"MH","T":655,"f":-11.77},{"label":"NNO+3","T":809,"f":-9.79},{"label":"NNO+2","T":902,"f":-9.72},{"label":"NNO+1","T":988,"f":-9.81},{"label":"NNO","T":1029,"f":-10.17},{"label":"FMQ","T":920,"f":-13.1}
],
"bletter":[{"label":"b","T":966,"f":-15.45}]
},
"spacing":10,
"bounds":"flush",
"resolve":{"legend":{"shape":"independent","fill":"independent","stroke":"independent","size":"independent"}},
"hconcat":[
 {"width":275,"height":283,
  "layer":[
   {"data":{"name":"a"},
    "mark":{"type":"point","opacity":1,"strokeWidth":0.8},
    "encoding":{
     "x":{"field":"T","type":"quantitative","scale":{"domain":[600,1000],"nice":false,"zero":false},"axis":{"title":"T (°C)","format":"d","values":[600,650,700,750,800,850,900,950,1000],"labelExpr":"datum.value % 100 === 0 ? datum.label : ''","tickSize":{"condition":{"test":"datum.value % 100 === 0","value":7},"value":4}}},
     "y":{"field":"P","type":"quantitative","scale":{"domain":[-30,700],"nice":false,"zero":false},"axis":{"title":"P (Mpa)","format":"d","values":[0,100,200,300,400,500,600,700],"labelExpr":"datum.value % 200 === 0 ? datum.label : ''","tickSize":{"condition":{"test":"datum.value % 200 === 0","value":7},"value":4}}},
     "shape":{"field":"series","type":"nominal","title":null,"scale":{"domain":["Fertile-Mfhbl","Fertile-Mhst","Fertile-Ti-Mhst","Fertile-Act","Barren-Mfhbl","Barren-Mhst","Barren-Hst"],"range":["square","M-1,0L1,0M0,-1L0,1M-1,-0.3L-1,0.3M1,-0.3L1,0.3M-0.3,-1L0.3,-1M-0.3,1L0.3,1","M-1,-1L1,1M-1,1L1,-1","triangle-up","square","M-1,0L1,0M0,-1L0,1M-1,-0.3L-1,0.3M1,-0.3L1,0.3M-0.3,-1L0.3,-1M-0.3,1L0.3,1","M-1,-1L1,1M-1,1L1,-1"]}},
     "fill":{"field":"series","type":"nominal","title":null,"scale":{"domain":["Fertile-Mfhbl","Fertile-Mhst","Fertile-Ti-Mhst","Fertile-Act","Barren-Mfhbl","Barren-Mhst","Barren-Hst"],"range":["rgba(238,68,68,0.55)","transparent","transparent","rgba(238,68,68,0.55)","rgba(70,85,170,0.6)","transparent","transparent"]}},
     "stroke":{"field":"series","type":"nominal","title":null,"scale":{"domain":["Fertile-Mfhbl","Fertile-Mhst","Fertile-Ti-Mhst","Fertile-Act","Barren-Mfhbl","Barren-Mhst","Barren-Hst"],"range":["transparent","#e3242b","rgba(238,60,60,0.7)","transparent","transparent","#2b3d9e","rgba(60,80,180,0.7)"]}},
     "size":{"field":"series","type":"nominal","title":null,"scale":{"domain":["Fertile-Mfhbl","Fertile-Mhst","Fertile-Ti-Mhst","Fertile-Act","Barren-Mfhbl","Barren-Mhst","Barren-Hst"],"range":[70,100,120,80,70,100,120]}}
    }},
   {"data":{"values":[{"label":"a","T":977,"P":46}]},
    "mark":{"type":"text","fontSize":22,"font":"Liberation Sans","color":"#111"},
    "encoding":{"x":{"field":"T","type":"quantitative"},"y":{"field":"P","type":"quantitative"},"text":{"field":"label"}}}
  ]},
 {"width":63,"height":283,"data":{"values":[]},"mark":"point"},
 {"width":274,"height":283,
  "encoding":{
   "x":{"field":"T","type":"quantitative","scale":{"domain":[600,1000],"nice":false,"zero":false},"axis":{"title":"T (°C)","format":"d","values":[600,650,700,750,800,850,900,950,1000],"labelExpr":"datum.value % 100 === 0 ? datum.label : ''","tickSize":{"condition":{"test":"datum.value % 100 === 0","value":7},"value":4}}},
   "y":{"field":"f","type":"quantitative","scale":{"domain":[-16,-10],"nice":false,"zero":false},"axis":{"title":"logfO₂","values":[-16,-15,-14,-13,-12,-11,-10],"labelExpr":"datum.value % 2 === 0 ? '' + datum.value : ''","tickSize":{"condition":{"test":"datum.value % 2 === 0","value":7},"value":4}}}
  },
  "layer":[
   {"data":{"name":"b"},
    "mark":{"type":"point","opacity":1,"strokeWidth":0.8},
    "encoding":{
     "shape":{"field":"series","type":"nominal","legend":null,"scale":{"domain":["Fertile-Mfhbl","Fertile-Mhst","Fertile-Ti-Mhst","Fertile-Act","Barren-Mfhbl","Barren-Mhst","Barren-Hst"],"range":["square","M-1,0L1,0M0,-1L0,1M-1,-0.3L-1,0.3M1,-0.3L1,0.3M-0.3,-1L0.3,-1M-0.3,1L0.3,1","M-1,-1L1,1M-1,1L1,-1","triangle-up","square","M-1,0L1,0M0,-1L0,1M-1,-0.3L-1,0.3M1,-0.3L1,0.3M-0.3,-1L0.3,-1M-0.3,1L0.3,1","M-1,-1L1,1M-1,1L1,-1"]}},
     "fill":{"field":"series","type":"nominal","legend":null,"scale":{"domain":["Fertile-Mfhbl","Fertile-Mhst","Fertile-Ti-Mhst","Fertile-Act","Barren-Mfhbl","Barren-Mhst","Barren-Hst"],"range":["rgba(238,68,68,0.55)","transparent","transparent","rgba(238,68,68,0.55)","rgba(70,85,170,0.6)","transparent","transparent"]}},
     "stroke":{"field":"series","type":"nominal","legend":null,"scale":{"domain":["Fertile-Mfhbl","Fertile-Mhst","Fertile-Ti-Mhst","Fertile-Act","Barren-Mfhbl","Barren-Mhst","Barren-Hst"],"range":["transparent","#e3242b","rgba(238,60,60,0.7)","transparent","transparent","#2b3d9e","rgba(60,80,180,0.7)"]}},
     "size":{"field":"series","type":"nominal","legend":null,"scale":{"domain":["Fertile-Mfhbl","Fertile-Mhst","Fertile-Ti-Mhst","Fertile-Act","Barren-Mfhbl","Barren-Mhst","Barren-Hst"],"range":[70,100,120,80,70,100,120]}}
    }},
   {"data":{"name":"curves"},"transform":[{"filter":"datum.buffer === 'MH'"}],
    "mark":{"type":"line","color":"#000","strokeWidth":1},"encoding":{"detail":{"field":"buffer"}}},
   {"data":{"name":"curves"},"transform":[{"filter":"indexof(['NNO+3','NNO+2','NNO+1'], datum.buffer) >= 0"}],
    "mark":{"type":"line","color":"#000","strokeWidth":1,"strokeDash":[5,6]},"encoding":{"detail":{"field":"buffer"}}},
   {"data":{"name":"curves"},"transform":[{"filter":"datum.buffer === 'NNO' || datum.buffer === 'FMQ'"}],
    "mark":{"type":"line","color":"#b8b8b8","strokeWidth":1},"encoding":{"detail":{"field":"buffer"}}},
   {"data":{"name":"blabels"},
    "mark":{"type":"text","fontSize":15,"font":"Liberation Sans","color":"#111"},
    "encoding":{"text":{"field":"label"}}},
   {"data":{"name":"bletter"},
    "mark":{"type":"text","fontSize":22,"font":"Liberation Sans","color":"#111"},
    "encoding":{"text":{"field":"label"}}}
  ]},
 {"width":87,"height":283,"data":{"values":[]},"mark":"point"},
 {"width":273,"height":283,
  "layer":[
   {"data":{"name":"c"},
    "mark":{"type":"point","opacity":1,"strokeWidth":0.8},
    "encoding":{
     "x":{"field":"H","type":"quantitative","scale":{"domain":[1,10],"nice":false,"zero":false},"axis":{"title":"H₂Oₘₑₗₜ","format":"d","values":[2,3,4,5,6,7,8,9,10],"labelExpr":"datum.value % 2 === 0 ? datum.label : ''","tickSize":{"condition":{"test":"datum.value % 2 === 0","value":7},"value":4}}},
     "y":{"field":"T","type":"quantitative","scale":{"domain":[600,1000],"nice":false,"zero":false},"axis":{"title":"T (°C)","format":"d","values":[600,650,700,750,800,850,900,950,1000],"labelExpr":"datum.value % 100 === 0 ? datum.label : ''","tickSize":{"condition":{"test":"datum.value % 100 === 0","value":7},"value":4}}},
     "shape":{"field":"series","type":"nominal","legend":null,"scale":{"domain":["Fertile-Mfhbl","Fertile-Mhst","Fertile-Ti-Mhst","Fertile-Act","Barren-Mfhbl","Barren-Mhst","Barren-Hst"],"range":["square","M-1,0L1,0M0,-1L0,1M-1,-0.3L-1,0.3M1,-0.3L1,0.3M-0.3,-1L0.3,-1M-0.3,1L0.3,1","M-1,-1L1,1M-1,1L1,-1","triangle-up","square","M-1,0L1,0M0,-1L0,1M-1,-0.3L-1,0.3M1,-0.3L1,0.3M-0.3,-1L0.3,-1M-0.3,1L0.3,1","M-1,-1L1,1M-1,1L1,-1"]}},
     "fill":{"field":"series","type":"nominal","legend":null,"scale":{"domain":["Fertile-Mfhbl","Fertile-Mhst","Fertile-Ti-Mhst","Fertile-Act","Barren-Mfhbl","Barren-Mhst","Barren-Hst"],"range":["rgba(238,68,68,0.55)","transparent","transparent","rgba(238,68,68,0.55)","rgba(70,85,170,0.6)","transparent","transparent"]}},
     "stroke":{"field":"series","type":"nominal","legend":null,"scale":{"domain":["Fertile-Mfhbl","Fertile-Mhst","Fertile-Ti-Mhst","Fertile-Act","Barren-Mfhbl","Barren-Mhst","Barren-Hst"],"range":["transparent","#e3242b","rgba(238,60,60,0.7)","transparent","transparent","#2b3d9e","rgba(60,80,180,0.7)"]}},
     "size":{"field":"series","type":"nominal","legend":null,"scale":{"domain":["Fertile-Mfhbl","Fertile-Mhst","Fertile-Ti-Mhst","Fertile-Act","Barren-Mfhbl","Barren-Mhst","Barren-Hst"],"range":[70,100,120,80,70,100,120]}}
    }},
   {"data":{"values":[{"label":"c","H":9.47,"T":631}]},
    "mark":{"type":"text","fontSize":22,"font":"Liberation Sans","color":"#111"},
    "encoding":{"x":{"field":"H","type":"quantitative"},"y":{"field":"T","type":"quantitative"},"text":{"field":"label"}}}
  ]}
]
}
